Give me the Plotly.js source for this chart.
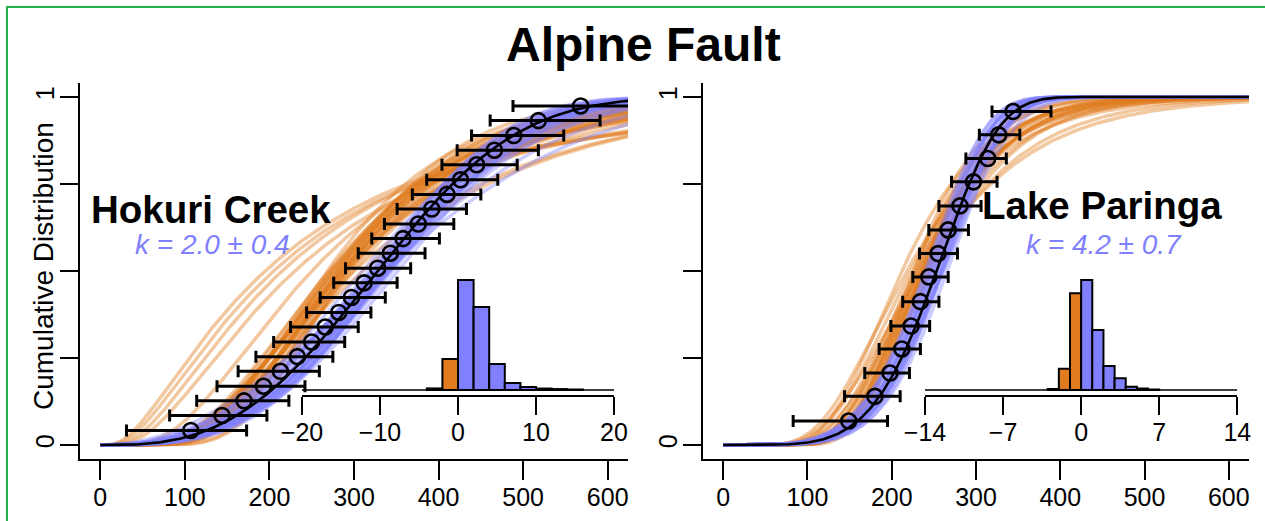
<!DOCTYPE html>
<html>
<head>
<meta charset="utf-8">
<script src="https://cdn.plot.ly/plotly-3.0.1.min.js"></script>
<style>
  html, body { margin: 0; padding: 0; background: #ffffff; }
  #chart { width: 1265px; height: 521px; }
</style>
</head>
<body>
<div id="chart"></div>
<script>
// ---------- Hokuri Creek: inter-event times (years), their ranges and cumulative rank ----------
const hokuriTime = [107, 144, 170, 193, 213, 233, 250, 266, 282, 297, 312, 328, 343, 358, 376, 392, 410, 426, 445, 466, 489, 518, 568];
const hokuriLow  = [31, 82, 114, 138, 163, 184, 205, 225, 244, 260, 276, 290, 305, 321, 336, 351, 369, 386, 404, 422, 439, 461, 488];
const hokuriHigh = [173, 197, 223, 242, 259, 275, 289, 305, 320, 337, 351, 367, 384, 401, 418, 433, 450, 470, 493, 518, 548, 591, 660];
const hokuriCdf  = [0.042, 0.085, 0.127, 0.169, 0.212, 0.254, 0.296, 0.339, 0.381, 0.424, 0.466, 0.508,
                    0.551, 0.593, 0.635, 0.678, 0.720, 0.762, 0.805, 0.847, 0.889, 0.932, 0.974];

// best-fit Weibull (black) and posterior draws (blue Weibull, orange lognormal)
const hokuriFitShape = 2.9, hokuriFitScale = 372;
const hokuriWeibullShape = [2.1, 2.3, 2.5, 2.6, 2.7, 2.75, 2.8, 2.85, 2.9, 2.95, 3.0, 3.0, 3.05, 3.1, 3.15, 3.2, 3.3, 2.65, 2.8, 3.05, 2.55, 3.4, 2.9, 3.1, 2.4, 3.0, 2.75, 2.95, 3.2];
const hokuriWeibullScale = [400, 392, 378, 370, 384, 366, 376, 388, 370, 380, 364, 375, 386, 372, 381, 367, 377, 392, 361, 396, 358, 374, 382, 378, 380, 390, 372, 386, 379];
const hokuriLognormMedian = [282, 276, 290, 270, 286, 295, 274, 284, 291, 268, 299, 279, 288, 272, 293, 281, 277, 287, 283, 279, 285, 273, 289, 292, 300, 310, 205, 215, 195, 230, 250];
const hokuriLognormSigma  = [0.45, 0.48, 0.42, 0.50, 0.47, 0.44, 0.46, 0.52, 0.50, 0.44, 0.47, 0.43, 0.55, 0.53, 0.49, 0.41, 0.50, 0.46, 0.44, 0.51, 0.53, 0.47, 0.36, 0.38, 0.60, 0.58, 0.88, 0.82, 0.92, 0.78, 0.62];

// shape-parameter difference histogram
const hokuriBinCenters = [-3, -1, 1, 3, 5, 7, 9, 11, 13, 15];
const hokuriBinCounts  = [60, 1170, 4160, 3140, 980, 265, 115, 55, 35, 20];
const hokuriBinWidth = 2;
const hokuriInsetTicks = [-20, -10, 0, 10, 20];
const hokuriInsetLabels = ['\u221220', '\u221210', '0', '10', '20'];

// ---------- Lake Paringa ----------
const paringaTime = [149, 180, 198, 212, 223, 234, 244, 255, 267, 281, 297, 314, 327, 344];
const paringaLow  = [83, 144, 168, 185, 199, 213, 225, 233, 244, 256, 271, 288, 304, 319];
const paringaHigh = [195, 210, 221, 234, 245, 256, 267, 278, 291, 306, 325, 336, 352, 389];
const paringaCdf  = [0.069, 0.140, 0.207, 0.276, 0.342, 0.412, 0.483, 0.550, 0.618, 0.687, 0.756, 0.823, 0.891, 0.958];

const paringaFitShape = 4.9, paringaFitScale = 273;
const paringaWeibullShape = [4.3, 4.5, 4.6, 4.7, 4.8, 4.9, 5.0, 5.0, 5.1, 5.2, 5.3, 5.5, 4.4, 4.8, 5.2, 4.6, 5.0, 5.4, 4.2, 4.9, 4.5, 5.1];
const paringaWeibullScale = [268, 274, 263, 270, 278, 266, 272, 281, 262, 275, 269, 277, 283, 259, 285, 276, 265, 271, 274, 280, 261, 279];
const paringaLognormMedian = [234, 229, 238, 226, 241, 232, 236, 230, 244, 228, 235, 239, 222, 218, 247, 233, 237, 225, 212, 240, 236];
const paringaLognormSigma  = [0.30, 0.28, 0.32, 0.27, 0.31, 0.34, 0.29, 0.33, 0.30, 0.36, 0.26, 0.35, 0.38, 0.42, 0.33, 0.31, 0.29, 0.32, 0.36, 0.40, 0.44];

const paringaBinCenters = [-2.5, -1.5, -0.5, 0.5, 1.5, 2.5, 3.5, 4.5, 5.5, 6.5];
const paringaBinCounts  = [30, 640, 2930, 3330, 1820, 730, 355, 100, 45, 15];
const paringaBinWidth = 1;
const paringaInsetTicks = [-14, -7, 0, 7, 14];
const paringaInsetLabels = ['\u221214', '\u22127', '0', '7', '14'];

// ---------- shared axis ticks ----------
const timeTicks = [0, 100, 200, 300, 400, 500, 600];
const cdfTicks = [0, 0.25, 0.5, 0.75, 1];
const cdfTickText = ['0', '', '', '', '1'];

// ---------- styling ----------
const W = 1265, H = 521;
const BLUE = '#8080ff';
const ORANGE = '#e07b20';
const FONT = 'Liberation Sans, Arial, Helvetica, sans-serif';

// distribution functions
function weibullCdf(t, k, lam) { return 1 - Math.exp(-Math.pow(t / lam, k)); }
function erf(x) {
  const s = x < 0 ? -1 : 1; x = Math.abs(x);
  const a1 = 0.254829592, a2 = -0.284496736, a3 = 1.421413741, a4 = -1.453152027, a5 = 1.061405429, p = 0.3275911;
  const t = 1 / (1 + p * x);
  const y = 1 - (((((a5 * t + a4) * t) + a3) * t + a2) * t + a1) * t * Math.exp(-x * x);
  return s * y;
}
function lognormCdf(t, med, sig) {
  if (t <= 0) return 0;
  return 0.5 * (1 + erf(Math.log(t / med) / (sig * Math.SQRT2)));
}

const grid = [];
for (let t = 0; t <= 630; t += 2) grid.push(t);

function curveTrace(fn, color, width, xa, ya) {
  return {
    x: grid, y: grid.map(fn), type: 'scatter', mode: 'lines',
    line: { color: color, width: width, shape: 'linear' },
    hoverinfo: 'skip', xaxis: xa, yaxis: ya, showlegend: false
  };
}

function panelTraces(p, xa, ya) {
  const tr = [];
  p.lnMed.forEach((m, i) => tr.push(curveTrace(t => lognormCdf(t, m, p.lnSig[i]), 'rgba(224,123,32,0.42)', 3.5, xa, ya)));
  p.wShape.forEach((k, i) => tr.push(curveTrace(t => weibullCdf(t, k, p.wScale[i]), 'rgba(128,128,255,0.40)', 3.5, xa, ya)));
  tr.push(curveTrace(t => weibullCdf(t, p.fitK, p.fitLam), '#000000', 2.6, xa, ya));
  tr.push({
    x: p.time, y: p.cdf, type: 'scatter', mode: 'markers',
    marker: { symbol: 'circle-open', size: 15, color: '#000000', line: { width: 2.6, color: '#000000' } },
    error_x: {
      type: 'data', symmetric: false,
      array: p.time.map((v, i) => p.high[i] - v),
      arrayminus: p.time.map((v, i) => v - p.low[i]),
      color: '#000000', thickness: 3, width: 6
    },
    hoverinfo: 'skip', xaxis: xa, yaxis: ya, showlegend: false
  });
  return tr;
}

function histTraces(centers, counts, width, lo, hi, xa, ya) {
  return [
    {
      x: [lo, hi], y: [0, 0], type: 'scatter', mode: 'lines',
      line: { color: '#000000', width: 1.5 }, hoverinfo: 'skip', xaxis: xa, yaxis: ya, showlegend: false
    },
    {
      x: centers, y: counts, type: 'bar', width: width,
      marker: { color: centers.map(c => c < 0 ? ORANGE : BLUE), line: { color: '#000000', width: 2 } },
      hoverinfo: 'skip', xaxis: xa, yaxis: ya, showlegend: false
    }
  ];
}

const traces = [].concat(
  panelTraces({ lnMed: hokuriLognormMedian, lnSig: hokuriLognormSigma, wShape: hokuriWeibullShape, wScale: hokuriWeibullScale,
                fitK: hokuriFitShape, fitLam: hokuriFitScale, time: hokuriTime, low: hokuriLow, high: hokuriHigh, cdf: hokuriCdf }, 'x', 'y'),
  panelTraces({ lnMed: paringaLognormMedian, lnSig: paringaLognormSigma, wShape: paringaWeibullShape, wScale: paringaWeibullScale,
                fitK: paringaFitShape, fitLam: paringaFitScale, time: paringaTime, low: paringaLow, high: paringaHigh, cdf: paringaCdf }, 'x2', 'y2'),
  histTraces(hokuriBinCenters, hokuriBinCounts, hokuriBinWidth, hokuriInsetTicks[0], hokuriInsetTicks[4], 'x3', 'y3'),
  histTraces(paringaBinCenters, paringaBinCounts, paringaBinWidth, paringaInsetTicks[0], paringaInsetTicks[4], 'x4', 'y4')
);

// pixel helpers for domains
const dx = (a, b) => [a / W, b / W];
const dy = (top, bottom) => [1 - bottom / H, 1 - top / H];

const mainX = (dom, anchor) => ({
  domain: dom, anchor: anchor, range: [-24, 624], showgrid: false, zeroline: false,
  showline: true, linecolor: '#000000', linewidth: 2,
  ticks: 'outside', ticklen: 19, tickwidth: 2, tickcolor: '#000000',
  tickmode: 'array', tickvals: timeTicks, ticktext: timeTicks.map(String),
  tickfont: { family: FONT, size: 25, color: '#000000' }, ticklabelstandoff: -4
});
const mainY = (anchor) => ({
  domain: dy(83, 459), anchor: anchor, range: [-0.04, 1.04], showgrid: false, zeroline: false,
  showline: true, linecolor: '#000000', linewidth: 2,
  ticks: 'outside', ticklen: 18, tickwidth: 2, tickcolor: '#000000',
  tickmode: 'array', tickvals: cdfTicks, ticktext: cdfTickText, tickangle: -90,
  tickfont: { family: FONT, size: 25, color: '#000000' }, ticklabelstandoff: -4
});
const insetX = (dom, anchor, ticks, labels) => ({
  domain: dom, anchor: anchor, range: [ticks[0], ticks[ticks.length - 1]], showgrid: false, zeroline: false,
  showline: true, linecolor: '#000000', linewidth: 2,
  ticks: 'outside', ticklen: 18, tickwidth: 2, tickcolor: '#000000',
  tickmode: 'array', tickvals: ticks, ticktext: labels,
  tickfont: { family: FONT, size: 25, color: '#000000' }, ticklabelstandoff: -4
});
const insetY = (anchor, counts) => {
  const m = Math.max.apply(null, counts);
  return { domain: dy(270, 395), anchor: anchor, range: [-m * 5 / 110, m * 120 / 110], visible: false, fixedrange: true };
};

const ann = (text, px, py, size, opts) => Object.assign({
  text: text, x: px / W, y: 1 - py / H, xref: 'paper', yref: 'paper',
  xanchor: 'center', yanchor: 'middle', showarrow: false,
  font: { family: FONT, size: size, color: '#000000' }
}, opts || {});

const layout = {
  width: W, height: H,
  margin: { l: 0, r: 0, t: 0, b: 0, pad: 0 },
  paper_bgcolor: '#ffffff', plot_bgcolor: 'rgba(0,0,0,0)',
  showlegend: false, barmode: 'overlay', bargap: 0,
  xaxis: mainX(dx(80, 628), 'y'),
  yaxis: mainY('x'),
  xaxis2: mainX(dx(703, 1249), 'y2'),
  yaxis2: mainY('x2'),
  xaxis3: insetX(dx(302, 614), 'y3', hokuriInsetTicks, hokuriInsetLabels),
  yaxis3: insetY('x3', hokuriBinCounts),
  xaxis4: insetX(dx(925, 1237.3), 'y4', paringaInsetTicks, paringaInsetLabels),
  yaxis4: insetY('x4', paringaBinCounts),
  annotations: [
    ann('<b>Alpine Fault</b>', 644, 44, 48),
    ann('Cumulative Distribution', 43, 266, 28, { textangle: -90 }),
    ann('<b>Hokuri Creek</b>', 211, 209, 38.5),
    ann('<i>k = 2.0 \u00b1 0.4</i>', 212, 244, 28, { font: { family: FONT, size: 28, color: BLUE } }),
    ann('<b>Lake Paringa</b>', 1102, 205, 38.5),
    ann('<i>k = 4.2 \u00b1 0.7</i>', 1104, 244, 28, { font: { family: FONT, size: 28, color: BLUE } })
  ],
  shapes: [
    { type: 'rect', xref: 'paper', yref: 'paper', x0: 7 / W, x1: 1.02, y0: -0.02, y1: 1 - 7 / H,
      line: { color: '#22b14c', width: 2 }, fillcolor: 'rgba(0,0,0,0)', layer: 'below' }
  ]
};

Plotly.newPlot('chart', traces, layout, { staticPlot: true, displayModeBar: false });
</script>
</body>
</html>
